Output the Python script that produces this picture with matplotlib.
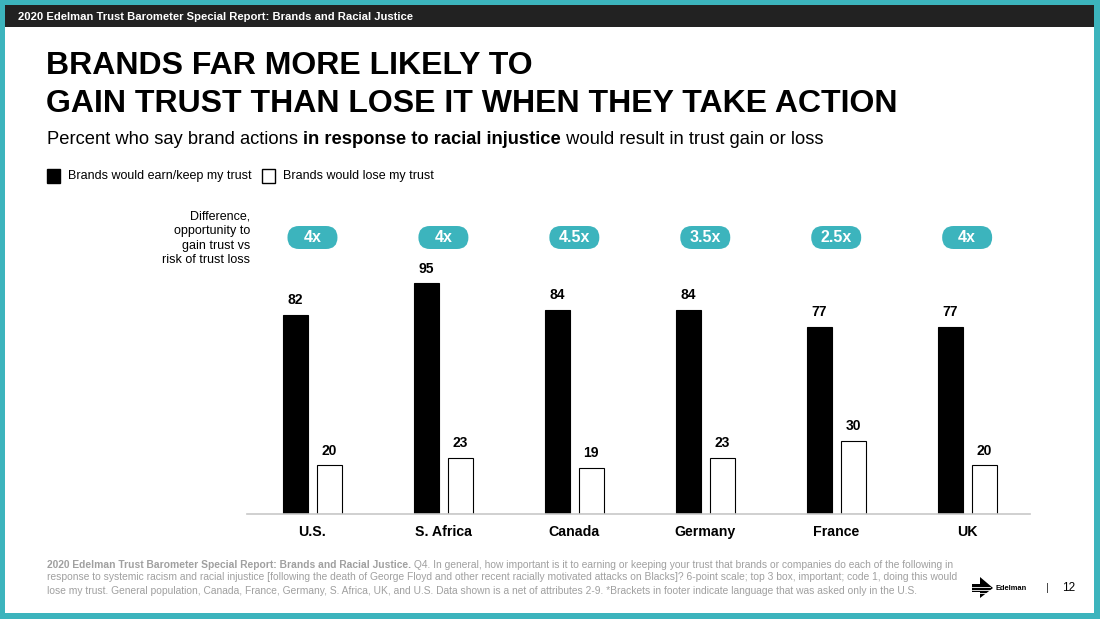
import matplotlib

matplotlib.use("Agg")
import matplotlib.pyplot as plt
from matplotlib.patches import FancyBboxPatch, Polygon, Rectangle

plt.rcParams["font.family"] = ["Liberation Sans", "DejaVu Sans"]

# data
countries = ["U.S.", "S. Africa", "Canada", "Germany", "France", "UK"]
earn_trust = [82, 95, 84, 84, 77, 77]
lose_trust = [20, 23, 19, 23, 30, 20]
multipliers = ["4x", "4x", "4.5x", "3.5x", "2.5x", "4x"]

header_text = "2020 Edelman Trust Barometer Special Report: Brands and Racial Justice"
title_lines = ["BRANDS FAR MORE LIKELY TO", "GAIN TRUST THAN LOSE IT WHEN THEY TAKE ACTION"]
subtitle_parts = [
    ("Percent who say brand actions ", "normal"),
    ("in response to racial injustice", "bold"),
    (" would result in trust gain or loss", "normal"),
]
legend_labels = ["Brands would earn/keep my trust", "Brands would lose my trust"]
difference_note = "Difference,\nopportunity to\ngain trust vs\nrisk of trust loss"
footer_bold = "2020 Edelman Trust Barometer Special Report: Brands and Racial Justice."
footer_lines = [
    " Q4. In general, how important is it to earning or keeping your trust that brands or companies do each of the following in",
    "response to systemic racism and racial injustice [following the death of George Floyd and other recent racially motivated attacks on Blacks]? 6-point scale; top 3 box, important; code 1, doing this would",
    "lose my trust. General population, Canada, France, Germany, S. Africa, UK, and U.S. Data shown is a net of attributes 2-9. *Brackets in footer indicate language that was asked only in the U.S.",
]
page_number = "12"

TEAL = "#3cb4bd"
DARK = "#222222"
GREY_TEXT = "#a0a0a0"
W, H = 1100, 619

fig = plt.figure(figsize=(W / 100, H / 100), dpi=100)
fig.patch.set_facecolor(TEAL)

# full-figure canvas in pixel coordinates for the slide furniture
canvas = fig.add_axes([0, 0, 1, 1])
canvas.set_xlim(0, W)
canvas.set_ylim(H, 0)
canvas.axis("off")
canvas.add_patch(Rectangle((5, 5), 1089, 608, facecolor="white", edgecolor="none"))
canvas.add_patch(Rectangle((5, 5), 1089, 22, facecolor=DARK, edgecolor="none"))
canvas.text(18, 16.5, header_text, color="white", fontsize=8.15, fontweight="bold", va="center")

canvas.text(46, 66, title_lines[0], fontsize=23, fontweight="bold", va="center")
canvas.text(46, 104, title_lines[1], fontsize=23, fontweight="bold", va="center")

fig.canvas.draw()
renderer = fig.canvas.get_renderer()


def run_text(x, y, parts, size, color="black"):
    """Draw text fragments with mixed weights one after another."""
    for part, weight in parts:
        item = canvas.text(x, y, part, fontsize=size, fontweight=weight, color=color, va="center")
        box = item.get_window_extent(renderer)
        x += box.width * W / fig.bbox.width


run_text(47, 139.5, subtitle_parts, 13.2)

# legend
canvas.add_patch(Rectangle((47, 169), 13, 14, facecolor="black", edgecolor="black", lw=1))
canvas.text(68, 176.5, legend_labels[0], fontsize=9, va="center")
canvas.add_patch(Rectangle((262, 169), 13, 14, facecolor="white", edgecolor="black", lw=1))
canvas.text(283, 176.5, legend_labels[1], fontsize=9, va="center")

canvas.text(250, 238.5, difference_note, fontsize=9, ha="right", va="center", linespacing=1.27)

# footer
run_text(47, 564.5, [(footer_bold, "bold"), (footer_lines[0], "normal")], 7.35, GREY_TEXT)
canvas.text(47, 577.5, footer_lines[1], fontsize=7.35, color=GREY_TEXT, va="center")
canvas.text(47, 590.5, footer_lines[2], fontsize=7.35, color=GREY_TEXT, va="center")

# rough Edelman mark
canvas.add_patch(Polygon([(972, 584), (980, 584), (980, 577), (993, 588), (980, 598), (980, 592), (972, 592)],
                         closed=True, facecolor="black", edgecolor="none"))
for yy in (586.5, 589.5, 592.5):
    canvas.plot([972, 990], [yy, yy], color="white", lw=0.6)
canvas.text(995, 588, "Edelman", fontsize=5.4, fontweight="bold", va="center")
canvas.text(1046, 588, "|", fontsize=8, va="center", color="#333333")
canvas.text(1062, 588, page_number, fontsize=8.5, va="center")

# bar chart
left, right, bottom_px, top_px = 247, 1030, 514, 271
ax = fig.add_axes([left / W, 1 - bottom_px / H, (right - left) / W, (bottom_px - top_px) / H])
ax.patch.set_alpha(0)
positions = list(range(len(countries)))
offset, width = 0.13, 0.19
ax.bar([p - offset for p in positions], earn_trust, width, color="black", edgecolor="black", lw=0.8)
ax.bar([p + offset for p in positions], lose_trust, width, color="white", edgecolor="black", lw=0.8)
for p, a, b in zip(positions, earn_trust, lose_trust):
    ax.annotate(str(a), (p - offset, a), xytext=(0, 5.5), textcoords="offset points",
                ha="center", va="bottom", fontsize=10, fontweight="bold", annotation_clip=False)
    ax.annotate(str(b), (p + offset, b), xytext=(0, 5.5), textcoords="offset points",
                ha="center", va="bottom", fontsize=10, fontweight="bold", annotation_clip=False)
ax.set_xlim(-0.5, 5.48)
ax.set_ylim(0, 100)
ax.set_yticks([])
ax.set_xticks(positions)
ax.set_xticklabels(countries, fontsize=10.2, fontweight="bold")
ax.tick_params(axis="x", length=0, pad=8)
for side in ("top", "left", "right"):
    ax.spines[side].set_visible(False)
ax.spines["bottom"].set_color("#c8c8c8")
ax.spines["bottom"].set_linewidth(1.2)

# multiplier pills above each group
fig.canvas.draw()
for p, label in zip(positions, multipliers):
    xd = ax.transData.transform((p, 0))[0] * W / fig.bbox.width
    canvas.add_patch(FancyBboxPatch((xd - 25, 226), 50, 23, boxstyle="round,pad=0,rounding_size=11.5",
                                    facecolor=TEAL, edgecolor="none"))
    canvas.text(xd, 238, label, color="white", fontsize=11.5, fontweight="bold", ha="center", va="center")

fig.savefig("out.png", dpi=100, facecolor=fig.get_facecolor())
